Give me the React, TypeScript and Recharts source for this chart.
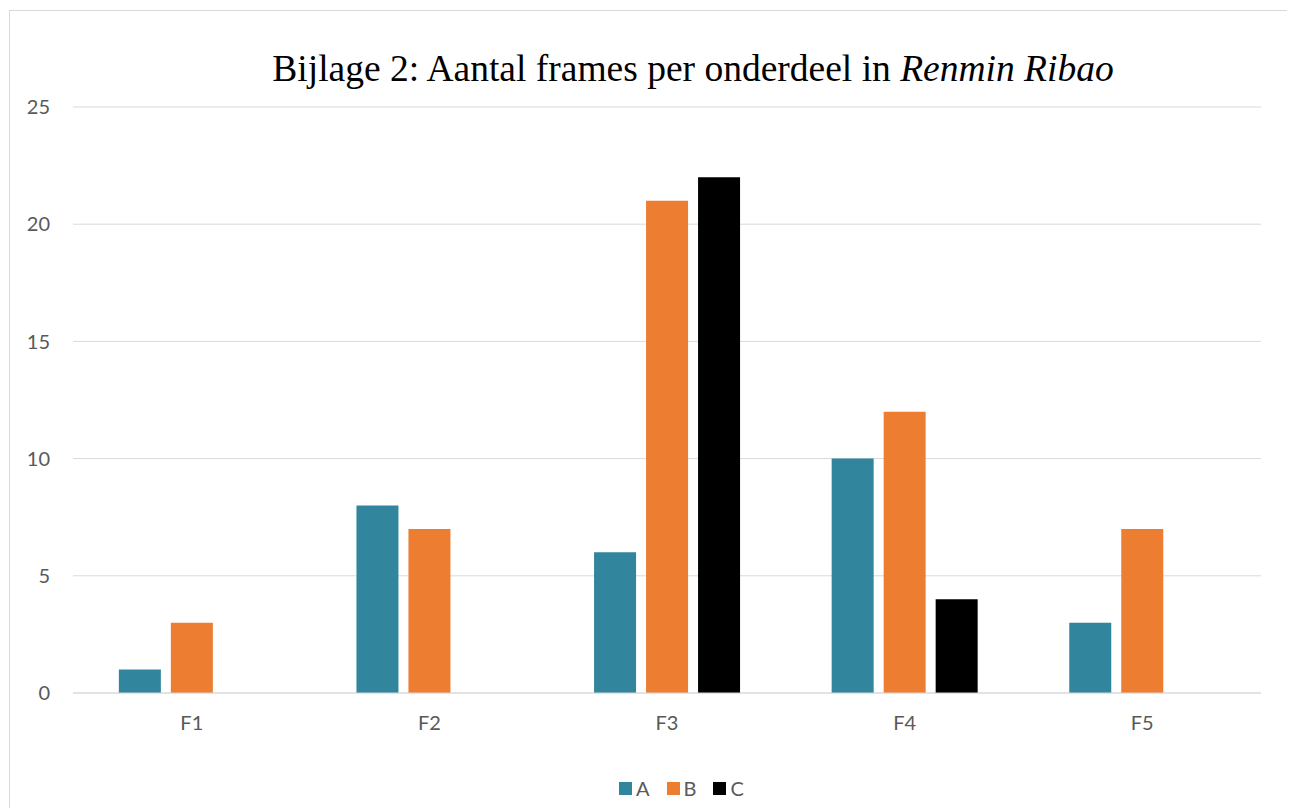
import { BarChart, Bar, XAxis, YAxis, CartesianGrid, Legend } from 'recharts';

const categories = ['F1', 'F2', 'F3', 'F4', 'F5'];
const seriesA = [1, 8, 6, 10, 3];
const seriesB = [3, 7, 21, 12, 7];
const seriesC = [0, 0, 22, 4, 0];
const yTicks = [0, 5, 10, 15, 20, 25];

const data = categories.map((name, i) => ({
  name,
  A: seriesA[i],
  B: seriesB[i],
  C: seriesC[i],
}));

const AXIS_FONT = 'Lato, Carlito, "Open Sans", sans-serif';
const TICK = { fontSize: 20, fill: '#595959', fontFamily: AXIS_FONT };

function LegendContent({ payload }: any) {
  return (
    <div style={{ display: 'flex', paddingLeft: 611, fontFamily: AXIS_FONT, fontSize: 20, color: '#595959', lineHeight: '24px' }}>
      {(payload || []).map((p: any) => (
        <div key={p.value} style={{ display: 'flex', alignItems: 'center', marginRight: 17 }}>
          <span style={{ width: 13, height: 13, background: p.color, display: 'inline-block', marginRight: 4 }} />
          <span>{p.value}</span>
        </div>
      ))}
    </div>
  );
}

export default function App() {
  return (
    <div style={{ position: 'relative', width: 1287, height: 800, background: '#fff' }}>
      <div
        style={{
          position: 'absolute',
          left: 1,
          top: 2,
          width: 1280,
          height: 820,
          border: '1px solid #D9D9D9',
          boxSizing: 'border-box',
        }}
      />
      <div
        style={{
          position: 'absolute',
          left: 0,
          top: 40,
          width: 1370,
          textAlign: 'center',
          fontFamily: '"Liberation Serif", "Times New Roman", serif',
          fontSize: 37.5,
          color: '#000',
          lineHeight: '42px',
          whiteSpace: 'nowrap',
        }}
      >
        Bijlage 2: Aantal frames per onderdeel in <i>Renmin Ribao</i>
      </div>
      <BarChart
        width={1287}
        height={800}
        data={data}
        margin={{ top: 99, right: 34, bottom: 75, left: 0 }}
        barCategoryGap="19.3%"
        barGap={10}
        style={{ position: 'absolute', left: 0, top: 0 }}
      >
        <CartesianGrid vertical={false} stroke="#D9D9D9" strokeWidth={1} />
        <XAxis
          dataKey="name"
          height={40}
          tick={TICK}
          tickLine={false}
          axisLine={{ stroke: '#D9D9D9' }}
          tickSize={0}
          tickMargin={23}
        />
        <YAxis
          width={65}
          domain={[0, 25]}
          ticks={yTicks}
          tick={TICK}
          tickLine={false}
          axisLine={false}
          tickSize={0}
          tickMargin={23}
        />
        <Legend
          verticalAlign="middle"
          align="center"
          content={<LegendContent />}
          wrapperStyle={{ top: 768, left: 0, width: 1287, height: 24 }}
        />
        <Bar dataKey="A" fill="#31859C" isAnimationActive={false} />
        <Bar dataKey="B" fill="#ED7D31" isAnimationActive={false} />
        <Bar dataKey="C" fill="#000000" isAnimationActive={false} />
      </BarChart>
    </div>
  );
}
